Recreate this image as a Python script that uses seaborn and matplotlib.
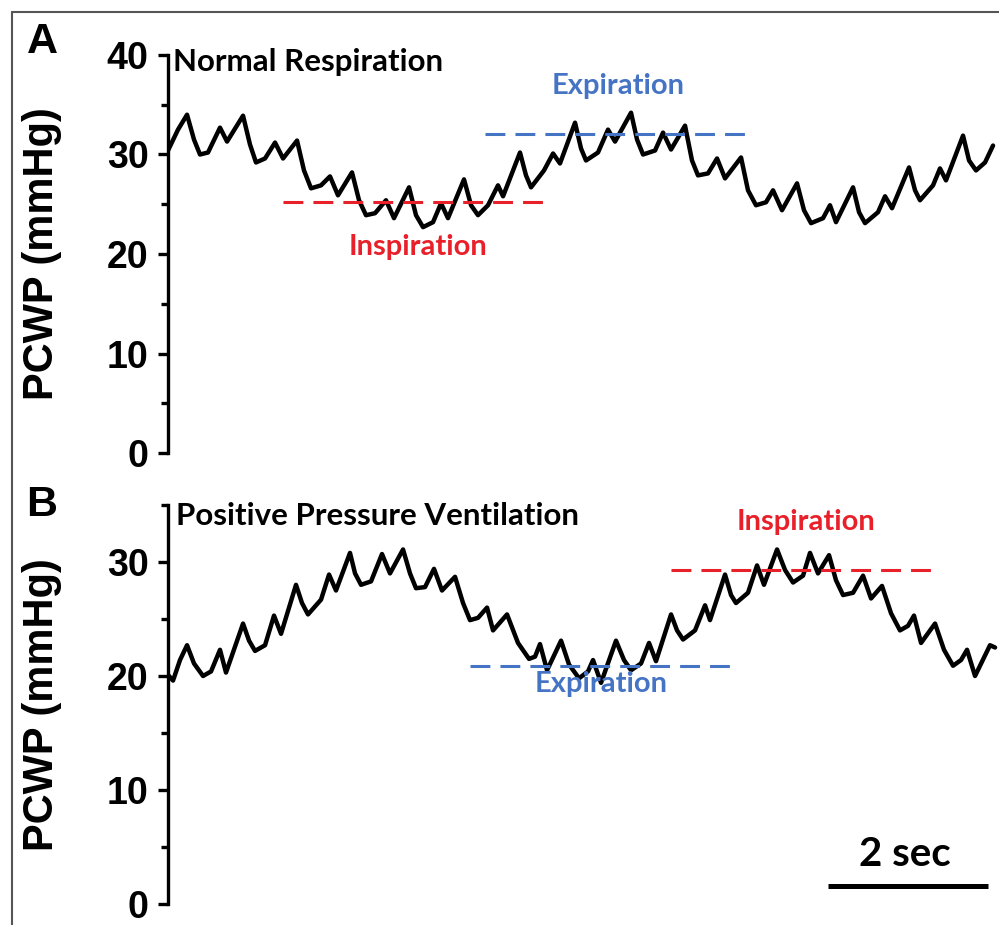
import matplotlib
matplotlib.use("Agg")
import matplotlib.pyplot as plt
from matplotlib.lines import Line2D
from matplotlib.ticker import MultipleLocator
import seaborn as sns
import pandas as pd

# Panel A - normal respiration (time in s, PCWP in mmHg)
time_a = [0.00, 0.125, 0.238, 0.325, 0.40, 0.50, 0.65, 0.738, 0.938, 1.025,
          1.10, 1.213, 1.338, 1.438, 1.613, 1.70, 1.788, 1.913, 2.025, 2.125,
          2.30, 2.388, 2.475, 2.588, 2.725, 2.825, 3.013, 3.10, 3.188, 3.313,
          3.413, 3.50, 3.70, 3.788, 3.875, 4.00, 4.125, 4.188, 4.40, 4.475,
          4.538, 4.70, 4.813, 4.90, 5.088, 5.163, 5.225, 5.375, 5.50, 5.588,
          5.788, 5.863, 5.938, 6.088, 6.188, 6.288, 6.463, 6.55, 6.625, 6.75,
          6.863, 6.963, 7.163, 7.25, 7.35, 7.475, 7.563, 7.675, 7.863, 7.95,
          8.038, 8.188, 8.275, 8.35, 8.563, 8.638, 8.713, 8.875, 8.963, 9.05,
          9.263, 9.338, 9.40, 9.563, 9.65, 9.725, 9.938, 10.013, 10.10, 10.213,
          10.313]
pcwp_a = [30.4, 32.5, 34.0, 31.5, 30.0, 30.2, 32.7, 31.3, 33.9, 31.0,
          29.2, 29.6, 31.2, 29.6, 31.4, 28.4, 26.6, 26.9, 27.8, 25.9,
          28.2, 25.4, 23.9, 24.1, 25.4, 23.6, 26.7, 23.9, 22.7, 23.2,
          25.1, 23.6, 27.5, 24.9, 23.9, 24.9, 26.9, 25.8, 30.2, 27.9,
          26.7, 28.4, 30.1, 29.1, 33.2, 30.6, 29.4, 30.2, 32.5, 31.3,
          34.2, 31.5, 30.0, 30.4, 32.2, 30.5, 32.9, 29.4, 27.9, 28.1,
          29.6, 27.6, 29.7, 26.4, 24.9, 25.2, 26.4, 24.4, 27.1, 24.4,
          23.1, 23.6, 24.9, 23.2, 26.7, 24.2, 23.1, 24.2, 25.8, 24.6,
          28.7, 26.4, 25.4, 26.9, 28.6, 27.4, 31.9, 29.4, 28.4, 29.2,
          30.9]

# Panel B - positive pressure ventilation
time_b = [0.00, 0.063, 0.15, 0.238, 0.325, 0.438, 0.538, 0.65, 0.725, 0.938,
          1.013, 1.088, 1.213, 1.325, 1.413, 1.60, 1.675, 1.75, 1.913, 2.013,
          2.10, 2.275, 2.338, 2.413, 2.538, 2.675, 2.775, 2.938, 3.025, 3.10,
          3.213, 3.325, 3.425, 3.588, 3.688, 3.775, 3.875, 3.988, 4.063, 4.238,
          4.375, 4.513, 4.588, 4.65, 4.738, 4.913, 5.013, 5.138, 5.25, 5.313,
          5.413, 5.60, 5.70, 5.788, 5.913, 6.013, 6.10, 6.288, 6.363, 6.438,
          6.588, 6.713, 6.775, 6.963, 7.038, 7.10, 7.25, 7.363, 7.45, 7.613,
          7.713, 7.813, 7.938, 8.025, 8.125, 8.263, 8.35, 8.438, 8.563, 8.688,
          8.788, 8.925, 9.038, 9.15, 9.25, 9.325, 9.413, 9.588, 9.70, 9.813,
          9.913, 9.988, 10.088, 10.275, 10.338]
pcwp_b = [20.1, 19.6, 21.4, 22.7, 21.1, 20.0, 20.4, 22.3, 20.3, 24.6,
          23.1, 22.2, 22.7, 25.3, 23.7, 28.0, 26.4, 25.4, 26.7, 28.9,
          27.5, 30.8, 29.0, 28.0, 28.3, 30.7, 29.0, 31.1, 29.0, 27.7,
          27.8, 29.4, 27.5, 28.7, 26.4, 24.9, 25.1, 26.0, 24.0, 25.4,
          22.9, 21.5, 21.7, 22.8, 20.5, 23.1, 21.0, 19.8, 20.4, 21.4,
          19.4, 23.1, 21.4, 20.5, 21.1, 22.9, 21.3, 25.4, 24.0, 23.2,
          24.0, 26.2, 24.9, 28.9, 27.1, 26.4, 27.3, 29.7, 28.0, 31.1,
          29.3, 28.2, 28.8, 30.8, 29.0, 30.6, 28.4, 27.1, 27.3, 28.8,
          26.8, 27.9, 25.5, 24.0, 24.4, 25.3, 22.9, 24.6, 22.3, 20.9,
          21.4, 22.3, 20.0, 22.7, 22.5]

# respiratory mean lines: (level, start, end)
insp_a = (25.2, 1.44, 4.75)
exp_a = (32.1, 3.96, 7.28)
exp_b = (20.9, 3.78, 7.06)
insp_b = (29.3, 6.29, 9.58)

RED = "#e8202a"
BLUE = "#4674c4"

sns.set_style("white", {"axes.edgecolor": "black", "text.color": "black",
                        "ytick.color": "black", "axes.labelcolor": "black",
                        "ytick.left": True})
plt.rcParams["font.family"] = ["Liberation Sans", "DejaVu Sans"]

fig = plt.figure(figsize=(9.99, 9.25), dpi=100)
W, H = 999, 925
x0, x1 = 168, 999
ax_a = fig.add_axes([x0 / W, 1 - 453 / H, (x1 - x0) / W, (453 - 55) / H])
ax_b = fig.add_axes([x0 / W, 1 - 904 / H, (x1 - x0) / W, (904 - 505) / H])

title_txt = dict(family="Lato", fontweight="bold", fontsize=22.5)
phase_txt = dict(family="Lato", fontweight="bold", fontsize=21)


def style_axis(ax, top, ticks):
    ax.set_xlim(0, (x1 - x0) / 80)
    ax.set_ylim(0, top)
    for s in ["top", "right", "bottom"]:
        ax.spines[s].set_visible(False)
    ax.spines["left"].set_linewidth(2.4)
    ax.spines["left"].set_bounds(0, top)
    ax.set_xticks([])
    ax.set_xlabel("")
    ax.set_yticks(ticks, [str(t) for t in ticks], fontsize=27, fontweight="bold")
    ax.yaxis.set_minor_locator(MultipleLocator(5))
    ax.tick_params(axis="y", which="major", length=7, width=2.4, pad=7,
                   left=True, color="black", labelcolor="black")
    ax.tick_params(axis="y", which="minor", length=5, width=2.4, left=True,
                   color="black")
    ax.set_ylabel("PCWP (mmHg)", fontsize=30, fontweight="bold", color="black")
    ax.yaxis.set_label_coords(-0.128, 0.5)
    ax.set_facecolor("none")


df_a = pd.DataFrame({"time": time_a, "pcwp": pcwp_a})
df_b = pd.DataFrame({"time": time_b, "pcwp": pcwp_b})

sns.lineplot(data=df_a, x="time", y="pcwp", ax=ax_a, color="black", lw=3.2,
             sort=False, estimator=None, solid_joinstyle="round")
sns.lineplot(data=df_b, x="time", y="pcwp", ax=ax_b, color="black", lw=3.2,
             sort=False, estimator=None, solid_joinstyle="round")

dash = (0, (6.5, 3.3))
for ax, (lvl, s, e), c in [(ax_a, insp_a, RED), (ax_a, exp_a, BLUE),
                           (ax_b, exp_b, BLUE), (ax_b, insp_b, RED)]:
    ax.plot([s, e], [lvl, lvl], color=c, lw=2.2, ls=dash, zorder=3)

style_axis(ax_a, 40, [0, 10, 20, 30, 40])
style_axis(ax_b, 35, [0, 10, 20, 30])

ax_a.text(0.06, 39.3, "Normal Respiration", ha="left", va="center", color="black", **title_txt)
ax_a.text(5.63, 36.9, "Expiration", ha="center", va="center", color=BLUE, **phase_txt)
ax_a.text(3.13, 20.7, "Inspiration", ha="center", va="center", color=RED, **phase_txt)

ax_b.text(0.1, 34.0, "Positive Pressure Ventilation", ha="left", va="center", color="black", **title_txt)
ax_b.text(7.98, 33.5, "Inspiration", ha="center", va="center", color=RED, **phase_txt)
ax_b.text(5.41, 19.3, "Expiration", ha="center", va="center", color=BLUE, **phase_txt)

# 2 s scale bar
ax_b.plot([8.25, 10.25], [1.6, 1.6], color="black", lw=3.6, solid_capstyle="butt", clip_on=False)
ax_b.text(9.21, 4.3, "2 sec", ha="center", va="center", color="black",
          family="Lato", fontweight="bold", fontsize=29)

fig.text(42 / W, 1 - 42 / H, "A", ha="center", va="center", fontsize=31, fontweight="bold")
fig.text(42 / W, 1 - 505 / H, "B", ha="center", va="center", fontsize=31, fontweight="bold")

# frame of the original figure (top and left edges visible)
fig.add_artist(Line2D([12 / W, 1], [1 - 12 / H, 1 - 12 / H], transform=fig.transFigure,
                      color="#555555", lw=1.5))
fig.add_artist(Line2D([12 / W, 12 / W], [0, 1 - 12 / H], transform=fig.transFigure,
                      color="#555555", lw=1.5))

fig.savefig("out.png", dpi=100)
